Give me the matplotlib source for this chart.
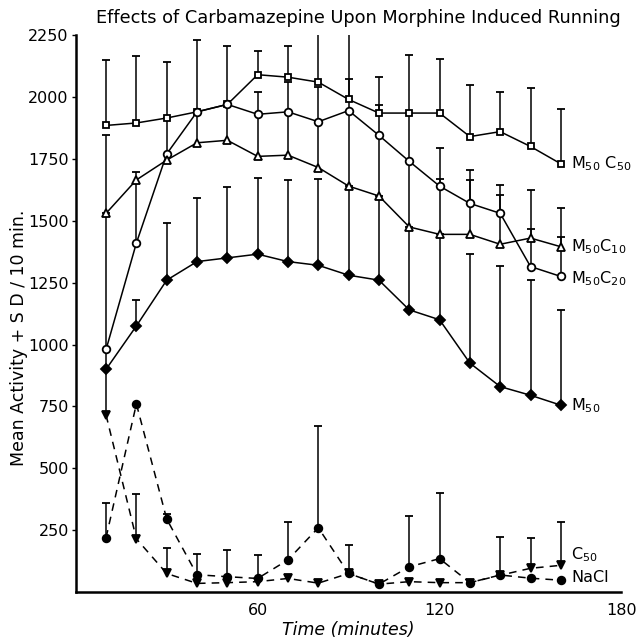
import numpy as np
import matplotlib.pyplot as plt

time = [10, 20, 30, 40, 50, 60, 70, 80, 90, 100, 110, 120, 130, 140, 150, 160]

# means and upper SD (only mean + SD is drawn in the original)
m50c50 = [1885, 1895, 1915, 1940, 1970, 2090, 2080, 2060, 1990, 1935, 1935, 1935, 1840, 1860, 1800, 1730]
m50c50_sd = [265, 270, 225, 290, 235, 97, 127, 204, 278, 147, 234, 218, 208, 161, 235, 221]

m50c20 = [980, 1410, 1770, 1940, 1970, 1930, 1940, 1900, 1945, 1845, 1740, 1640, 1570, 1530, 1315, 1275]
m50c20_sd = [550, 288, 145, 0, 0, 91, 122, 139, 127, 122, 195, 152, 135, 114, 153, 161]

m50c10 = [1530, 1665, 1745, 1815, 1825, 1760, 1765, 1715, 1640, 1600, 1475, 1445, 1445, 1405, 1430, 1395]
m50c10_sd = [316, 0, 0, 125, 145, 170, 175, 185, 305, 245, 265, 223, 219, 199, 194, 155]

m50 = [900, 1075, 1260, 1335, 1350, 1365, 1335, 1320, 1280, 1260, 1140, 1100, 925, 830, 795, 755]
m50_sd = [80, 105, 232, 258, 287, 308, 329, 347, 360, 340, 335, 345, 441, 487, 465, 384]

c50 = [715, 215, 75, 35, 38, 42, 55, 36, 75, 32, 42, 38, 38, 68, 96, 108]
c50_sd = [185, 180, 105, 0, 0, 0, 0, 0, 0, 0, 0, 0, 0, 153, 121, 176]

nacl = [220, 760, 295, 70, 62, 55, 130, 260, 75, 32, 102, 135, 38, 69, 56, 48]
nacl_sd = [140, 0, 20, 84, 108, 95, 155, 410, 116, 0, 205, 264, 0, 0, 0, 0]

series = [
    (m50c50, m50c50_sd, "s", 5, "white", "-", r"M$_{50}$ C$_{50}$", 1730),
    (m50c20, m50c20_sd, "o", 5.5, "white", "-", r"M$_{50}$C$_{20}$", 1265),
    (m50c10, m50c10_sd, "^", 6, "white", "-", r"M$_{50}$C$_{10}$", 1395),
    (m50, m50_sd, "D", 5.5, "black", "-", r"M$_{50}$", 755),
    (c50, c50_sd, "v", 6, "black", (0, (5, 4)), r"C$_{50}$", 150),
    (nacl, nacl_sd, "o", 5.5, "black", (0, (5, 4)), "NaCl", 60),
]

fig = plt.figure(figsize=(6.42, 6.38), dpi=100)
ax = fig.add_axes([0.118, 0.072, 0.85, 0.873])

t = np.array(time)
for vals, sd, mk, ms, fc, ls, lab, ly in series:
    v = np.array(vals)
    top = v + np.array(sd)
    has = np.array(sd) > 0
    ax.vlines(t[has], v[has], top[has], color="black", lw=1.1, zorder=2)
    ax.plot(t[has], top[has], ls="none", marker="_", ms=6, mew=1.3, color="black", zorder=2)
    ax.plot(t, v, ls=ls, lw=1.1, color="black", marker=mk, ms=ms,
            mfc=fc, mec="black", mew=1.3, zorder=3)
    ax.text(t[-1] + 3.5, ly, lab, fontsize=11.5, va="center", ha="left")

ax.set_xlim(0, 180)
ax.set_ylim(0, 2250)
ax.set_xticks([60, 120, 180])
ax.set_yticks(np.arange(250, 2251, 250))
ax.tick_params(axis="x", length=0, pad=8, labelsize=11.5)
ax.tick_params(axis="y", length=3, width=1, labelsize=11.5, pad=2)
ax.spines["top"].set_visible(False)
ax.spines["right"].set_visible(False)
ax.spines["left"].set_linewidth(1.8)
ax.spines["bottom"].set_linewidth(1.8)

ax.set_xlabel("Time (minutes)", fontsize=12.5, style="italic", labelpad=2)
ax.set_ylabel("Mean Activity + S D / 10 min.", fontsize=12.5)
ax.yaxis.set_label_coords(-0.088, 0.456)
fig.text(0.558, 0.972, "Effects of Carbamazepine Upon Morphine Induced Running",
         ha="center", va="center", fontsize=12.8)

fig.savefig("out.png", dpi=100)
